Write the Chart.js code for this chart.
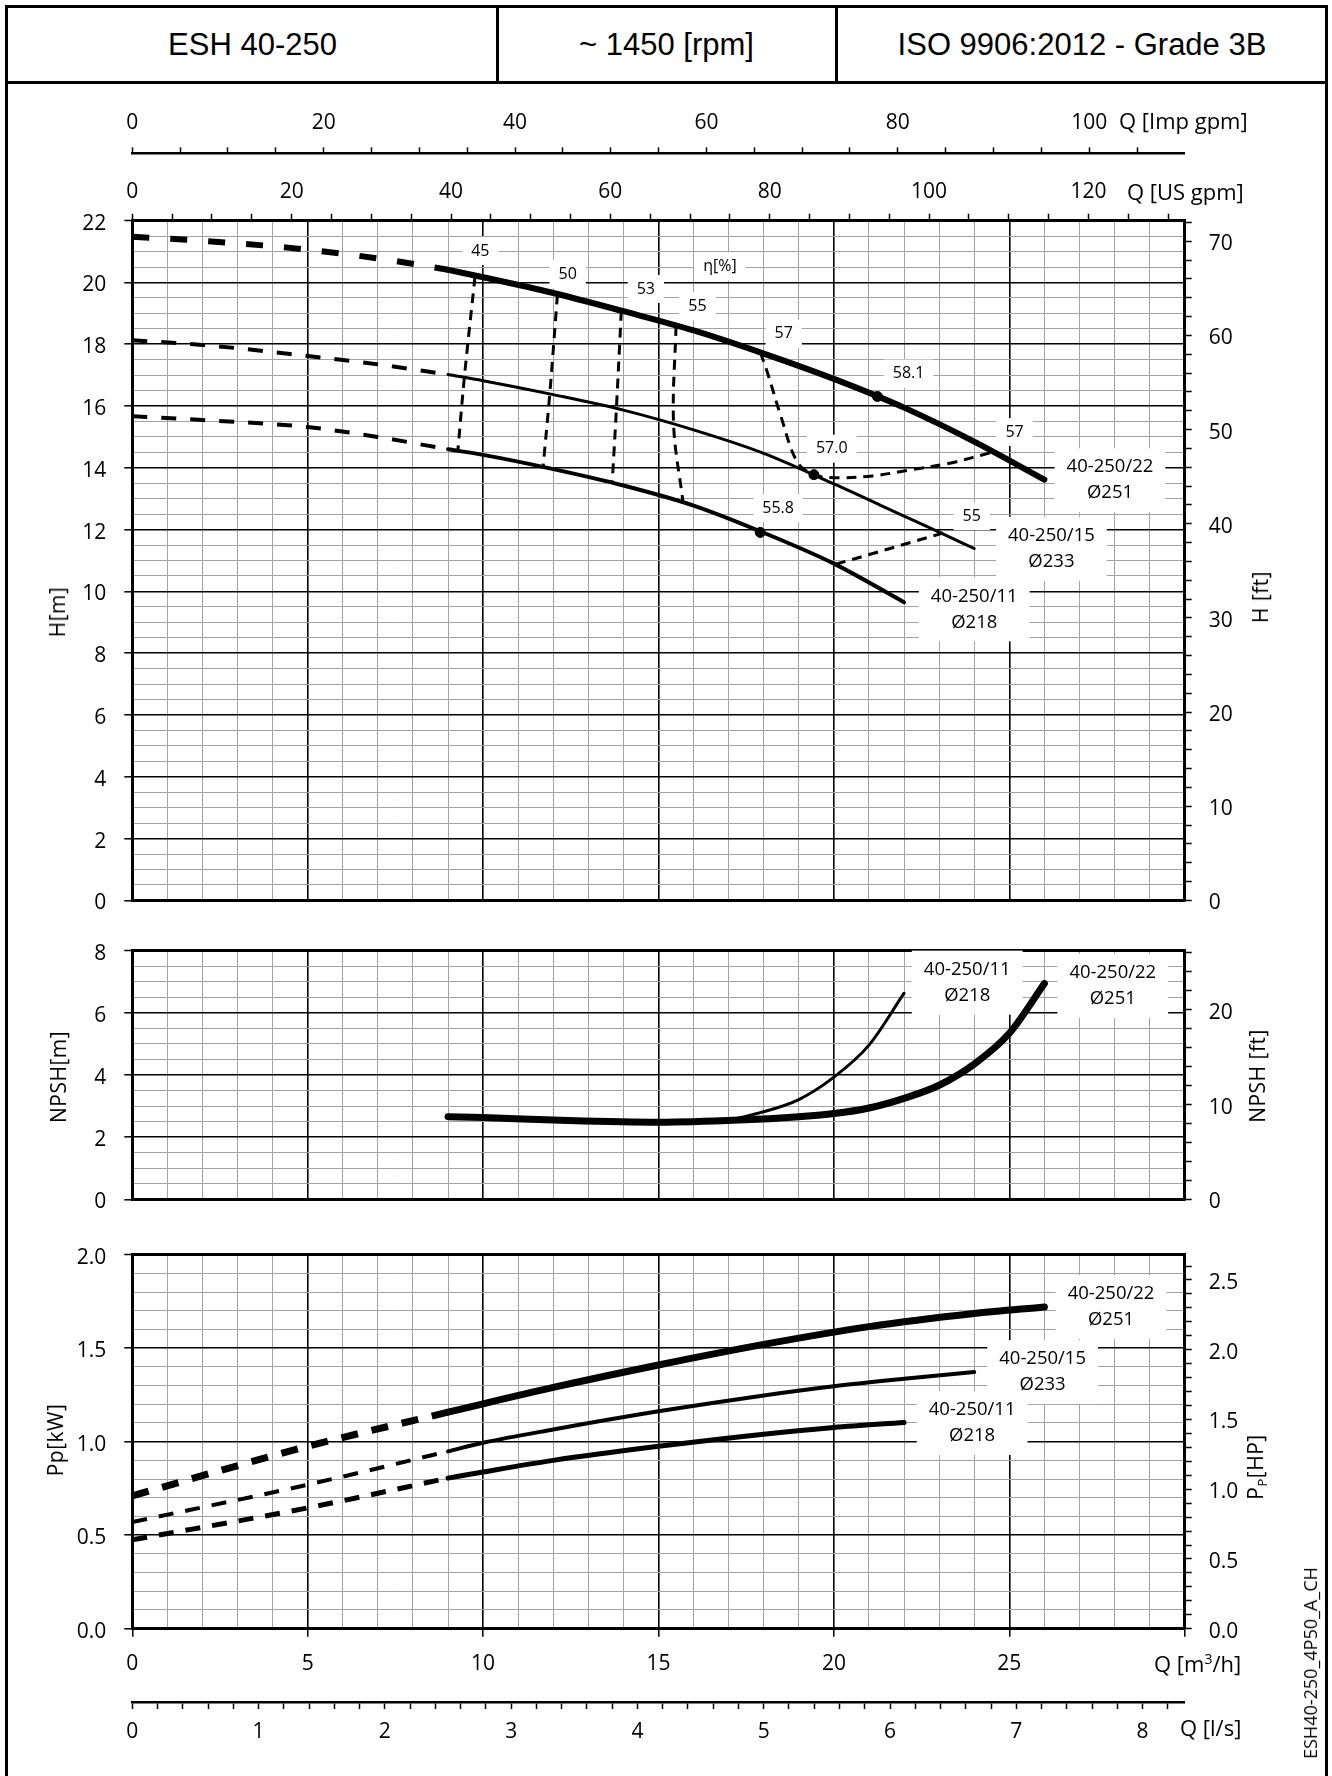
<!DOCTYPE html>
<html>
<head>
<meta charset="utf-8">
<title>ESH 40-250</title>
<script src="https://cdn.jsdelivr.net/npm/chart.js@4.4.1/dist/chart.umd.min.js"></script>
<style>
  html, body { margin: 0; padding: 0; background: #fff; }
  #page { position: relative; width: 1332px; height: 1776px; overflow: hidden; font-family: 'Open Sans', sans-serif; color: #000; }
  #frame { position: absolute; left: 5px; top: 5px; width: 1317px; height: 1800px; border: 3px solid #000; }
  .bar { position: absolute; background: #000; }
  .cell { position: absolute; top: 8px; height: 73px; line-height: 73px; text-align: center; font-family: 'Liberation Sans', Arial, sans-serif; font-size: 31px; }
  canvas { position: absolute; left: 0; }
  .unit { position: absolute; font-size: 22px; line-height: 30px; white-space: nowrap; }
  .rot { position: absolute; transform: translate(-50%, -50%) rotate(-90deg); white-space: nowrap; font-size: 21px; line-height: 26px; letter-spacing: 0.5px; }
  sup { font-size: 14px; vertical-align: 8px; line-height: 0; }
  sub { font-size: 13px; vertical-align: -4px; line-height: 0; }
</style>
</head>
<body>
<div id="page">
  <div id="frame"></div>
  <div class="bar" style="left:5px; top:81px; width:1323px; height:3px;"></div>
  <div class="bar" style="left:496px; top:5px; width:2.5px; height:78px;"></div>
  <div class="bar" style="left:835px; top:5px; width:2.5px; height:78px;"></div>
  <div class="cell" style="left:8px; width:489px;">ESH 40-250</div>
  <div class="cell" style="left:498px; width:337px;">~ 1450 [rpm]</div>
  <div class="cell" style="left:837px; width:490px;">ISO 9906:2012 - Grade 3B</div>

  <canvas id="cH" width="1332" height="841" style="top:90px"></canvas>
  <canvas id="cN" width="1332" height="310" style="top:920px"></canvas>
  <canvas id="cP" width="1332" height="552" style="top:1224px"></canvas>

  <div class="unit" style="left:1119px; top:105px;">Q [Imp gpm]</div>
  <div class="unit" style="left:1127px; top:176px;">Q [US gpm]</div>
  <div class="unit" style="left:1154px; top:1648px;">Q [m<sup>3</sup>/h]</div>
  <div class="unit" style="left:1180px; top:1712px;">Q [l/s]</div>

  <div class="rot" style="left:57px; top:612px;">H[m]</div>
  <div class="rot" style="left:58px; top:1077px;">NPSH[m]</div>
  <div class="rot" style="left:55px; top:1440px;">Pp[kW]</div>
  <div class="rot" style="left:1260px; top:597px;">H [ft]</div>
  <div class="rot" style="left:1257px; top:1076px;">NPSH [ft]</div>
  <div class="rot" style="left:1255px; top:1467px;">P<sub>P</sub>[HP]</div>
  <div class="rot" style="left:1310px; top:1663px; font-size:18px; letter-spacing:0;">ESH40-250_4P50_A_CH</div>
</div>

<script>
// ---- H [m] vs Q [m3/h] ----
const hQ22dash = [0, 2, 4.5, 7, 9];
const hH22dash = [21.48, 21.35, 21.12, 20.78, 20.41];
const hQ22 = [9, 10, 12, 14, 16, 18, 20, 22, 24, 26];
const hH22 = [20.41, 20.17, 19.66, 19.07, 18.45, 17.70, 16.88, 15.95, 14.85, 13.62];
const hQ15dash = [0, 2, 5, 7, 9];
const hH15dash = [18.13, 17.98, 17.62, 17.35, 17.02];
const hQ15 = [9, 10, 12, 14, 16, 18, 20, 22, 23, 24];
const hH15 = [17.02, 16.82, 16.37, 15.87, 15.23, 14.47, 13.48, 12.44, 11.92, 11.39];
const hQ11dash = [0, 2, 5, 7, 9];
const hH11dash = [15.67, 15.55, 15.32, 15.0, 14.6];
const hQ11 = [9, 10, 12, 14, 16, 18, 20, 22];
const hH11 = [14.6, 14.42, 13.96, 13.43, 12.78, 11.9, 10.9, 9.65];

// efficiency iso-lines
const eta45Q = [9.77, 9.47, 9.28];
const eta45H = [20.2, 16.98, 14.55];
const eta50Q = [12.12, 11.9, 11.71];
const eta50H = [19.62, 16.39, 14.03];
const eta53Q = [13.94, 13.8, 13.68];
const eta53H = [19.09, 15.92, 13.5];
const eta55Q = [15.5, 15.43, 15.7];
const eta55H = [18.6, 15.41, 12.88];
const eta57Q = [17.9, 18.09, 18.47, 18.95, 19.43, 20.1, 21.1, 22.1, 23.3, 24.5];
const eta57H = [17.74, 17.14, 15.74, 14.2, 13.78, 13.68, 13.74, 13.92, 14.15, 14.5];
const eta55bQ = [20.05, 23.2];
const eta55bH = [10.88, 11.92];

// best efficiency points
const bepQ = [21.24, 19.43, 17.9];
const bepH = [16.31, 13.78, 11.91];

// labels
const effText = ['45', '50', '53', '55', 'η[%]', '57', '58.1', '57', '57.0', '55.8', '55'];
const effQ = [9.92, 12.41, 14.64, 16.11, 16.75, 18.57, 22.13, 25.15, 19.94, 18.41, 23.93];
const effH = [21.02, 20.27, 19.79, 19.23, 20.52, 18.34, 17.05, 15.16, 14.62, 12.69, 12.44];
const curveText = ['40-250/22\nØ251', '40-250/15\nØ233', '40-250/11\nØ218'];
const hLabelQ = [27.87, 26.2, 24.0];
const hLabelH = [13.6, 11.38, 9.42];

// ---- NPSH [m] ----
const npQ22 = [9, 10, 12, 15, 17.3, 19, 20, 21, 22, 23, 24, 25, 26];
const npV22 = [2.66, 2.63, 2.55, 2.48, 2.55, 2.66, 2.76, 2.94, 3.25, 3.67, 4.35, 5.34, 6.94];
const npQ11 = [9, 12, 15, 17, 17.9, 19, 20, 21, 22];
const npV11 = [2.66, 2.55, 2.48, 2.56, 2.79, 3.21, 3.93, 4.96, 6.63];
const npText = ['40-250/11\nØ218', '40-250/22\nØ251'];
const npLabelQ = [23.8, 27.95];
const npLabelV = [6.97, 6.86];

// ---- Pp [kW] ----
const pQ22dash = [0, 2.5, 5, 9];
const pP22dash = [0.71, 0.845, 0.975, 1.158];
const pQ22 = [9, 12, 15, 18, 21, 24, 26];
const pP22 = [1.158, 1.29, 1.41, 1.52, 1.615, 1.685, 1.72];
const pQ15dash = [0, 5, 9];
const pP15dash = [0.57, 0.77, 0.948];
const pQ15 = [9, 10, 12, 15, 18, 20, 22, 24];
const pP15 = [0.948, 0.994, 1.065, 1.162, 1.247, 1.296, 1.336, 1.372];
const pQ11dash = [0, 5, 9];
const pP11dash = [0.475, 0.646, 0.805];
const pQ11 = [9, 10, 12, 15, 18, 20, 22];
const pP11 = [0.805, 0.838, 0.9, 0.975, 1.04, 1.076, 1.103];
const pLabelQ = [27.9, 25.95, 23.94];
const pLabelP = [1.72, 1.372, 1.10];

// unit conversions for the secondary axes
const IMP_GPM = 0.2727654;   // m3/h
const US_GPM = 0.2271247;    // m3/h
const FT = 0.3048;           // m
const HP = 0.7457;           // kW

Chart.defaults.font.family = "'Open Sans', sans-serif";
Chart.defaults.color = '#000';

const GRAY = '#a3a3a3';
const NONE = 'rgba(0,0,0,0)';
const tickFont = { size: 21 };
const isMul = (v, m) => Math.abs(v / m - Math.round(v / m)) < 1e-6;
const pts = (xs, ys) => xs.map((x, i) => ({ x, y: ys[i] }));
const tv = c => (c.tick ? c.tick.value : 0);

// pump curves are functions of Q -> monotone spline; iso-lines use plain bezier
function curve(q, v, width, dash) {
  return {
    data: pts(q, v), xAxisID: 'x', yAxisID: 'y', showLine: true,
    borderColor: '#000', borderWidth: width, borderDash: dash || [],
    borderCapStyle: dash ? 'butt' : 'round', borderJoinStyle: 'round',
    pointRadius: 0, cubicInterpolationMode: 'monotone', fill: false
  };
}
function isoLine(q, v) {
  return Object.assign(curve(q, v, 3, [10, 7]), { cubicInterpolationMode: 'default', tension: 0.35 });
}

function flowAxis(showLabels) {
  return {
    type: 'linear', position: 'bottom', min: 0, max: 30, weight: 0,
    ticks: {
      stepSize: 1, display: showLabels, autoSkip: false, maxRotation: 0, minRotation: 0,
      font: tickFont, padding: 14.7, callback: v => (isMul(v, 5) && v < 30 ? String(v) : '')
    },
    grid: {
      drawTicks: showLabels, tickLength: 8, tickWidth: 1.5,
      tickColor: c => (isMul(tv(c), 5) ? '#000' : NONE),
      color: c => (isMul(tv(c), 5) ? '#000' : GRAY),
      lineWidth: c => (isMul(tv(c), 5) ? 1.6 : 1)
    },
    border: { display: true, color: '#000', width: 3 },
    afterFit: s => { s.height = showLabels ? 73.3 : 0; }
  };
}

function leftAxis(max, step, major, fmt) {
  return {
    type: 'linear', position: 'left', min: 0, max,
    ticks: {
      stepSize: step, autoSkip: false, includeBounds: false, font: tickFont, padding: 18, labelOffset: 3,
      callback: v => (isMul(v, major) ? fmt(v) : '')
    },
    grid: {
      tickLength: 8, tickWidth: 1.5,
      tickColor: c => (isMul(tv(c), major) ? '#000' : NONE),
      color: c => (isMul(tv(c), major) ? '#000' : GRAY),
      lineWidth: c => (Math.abs(tv(c) - max) < 1e-6 ? 3 : isMul(tv(c), major) ? 1.6 : 1)
    },
    border: { display: true, color: '#000', width: 3 },
    afterFit: s => { s.width = 132.3; }
  };
}

function rightAxis(max, step, major, fmt) {
  return {
    type: 'linear', position: 'right', min: 0, max,
    ticks: {
      stepSize: step, autoSkip: false, includeBounds: false, font: tickFont, padding: 17, labelOffset: 3,
      callback: v => (isMul(v, major) ? fmt(v) : '')
    },
    grid: { drawOnChartArea: false, tickLength: 7, tickWidth: 1.5, tickColor: '#000' },
    border: { display: true, color: '#000', width: 3 },
    afterFit: s => { s.width = 147.3; }
  };
}

// gpm scales: one tick every 5 gpm, a label every 20
function topAxis(max, weight, tickLen, pad, boxH, borderW) {
  return {
    type: 'linear', position: 'top', min: 0, max, weight,
    ticks: {
      autoSkip: false, maxRotation: 0, minRotation: 0,
      font: tickFont, padding: pad, callback: v => (isMul(v, 20) ? String(v) : '')
    },
    afterBuildTicks: s => {
      const t = [];
      for (let v = 0; v <= s.max + 1e-9; v += 5) t.push({ value: v });
      s.ticks = t;
    },
    grid: { drawOnChartArea: false, tickLength: tickLen, tickWidth: 1.5, tickColor: '#000' },
    border: { display: true, color: '#000', width: borderW },
    afterFit: s => { s.height = boxH; }
  };
}

// white boxed text placed in data units
function drawBoxLabels(chart, texts, xs, ys, size, lh, padX, padY) {
  const ctx = chart.ctx, sx = chart.scales.x, sy = chart.scales.y;
  texts.forEach((t, i) => {
    const lines = t.split('\n');
    ctx.save();
    ctx.font = size + "px 'Open Sans', sans-serif";
    const w = Math.max(...lines.map(s => ctx.measureText(s).width)) + 2 * padX;
    const h = lines.length * lh + 2 * padY;
    const cx = sx.getPixelForValue(xs[i]);
    const cy = sy.getPixelForValue(ys[i]);
    ctx.fillStyle = '#fff';
    ctx.fillRect(cx - w / 2, cy - h / 2, w, h);
    ctx.fillStyle = '#000';
    ctx.textAlign = 'center';
    ctx.textBaseline = 'middle';
    lines.forEach((s, k) => ctx.fillText(s, cx, cy + (k - (lines.length - 1) / 2) * lh));
    ctx.restore();
  });
}

const baseOpts = (padding, scales) => ({
  responsive: false, animation: false, events: [],
  layout: { padding },
  plugins: { legend: { display: false }, tooltip: { enabled: false } },
  scales
});

// ---- head chart ----
new Chart(document.getElementById('cH'), {
  type: 'scatter',
  data: {
    datasets: [
      curve(hQ22dash, hH22dash, 6, [17, 21]),
      curve(hQ22, hH22, 6),
      curve(hQ15dash, hH15dash, 4, [15, 14]),
      curve(hQ15, hH15, 3),
      curve(hQ11dash, hH11dash, 4, [15, 14]),
      curve(hQ11, hH11, 4),
      isoLine(eta45Q, eta45H),
      isoLine(eta50Q, eta50H),
      isoLine(eta53Q, eta53H),
      isoLine(eta55Q, eta55H),
      isoLine(eta57Q, eta57H),
      isoLine(eta55bQ, eta55bH),
      {
        data: pts(bepQ, bepH), xAxisID: 'x', yAxisID: 'y', showLine: false,
        pointRadius: 5, pointBackgroundColor: '#000', pointBorderColor: '#000'
      }
    ]
  },
  options: baseOpts({ top: 0, bottom: 25, left: 0, right: 0 }, {
    x: flowAxis(false),
    y: leftAxis(22, 0.5, 2, v => String(v)),
    xUS: topAxis(30 / US_GPM, 0, 7, 9, 67.4, 3),
    xImp: topAxis(30 / IMP_GPM, 1, 6, 11.5, 63.3, 2.5),
    yft: rightAxis(22 / FT, 2, 10, v => String(v))
  }),
  plugins: [{
    id: 'hLabels',
    beforeDatasetsDraw(chart) {
      drawBoxLabels(chart, effText, effQ, effH, 16, 20, 9, 4);
      drawBoxLabels(chart, curveText, hLabelQ, hLabelH, 18.5, 26, 12, 6);
    }
  }]
});

// ---- NPSH chart ----
new Chart(document.getElementById('cN'), {
  type: 'scatter',
  data: {
    datasets: [
      curve(npQ22, npV22, 7),
      curve(npQ11, npV11, 3)
    ]
  },
  options: baseOpts({ top: 25, bottom: 23.7, left: 0, right: 0 }, {
    x: flowAxis(false),
    y: leftAxis(8, 0.5, 2, v => String(v)),
    yft: rightAxis(8 / FT, 2, 10, v => String(v))
  }),
  plugins: [{
    id: 'npLabels',
    beforeDatasetsDraw(chart) {
      drawBoxLabels(chart, npText, npLabelQ, npLabelV, 18.5, 26, 12, 6);
    }
  }]
});

// ---- power chart ----
new Chart(document.getElementById('cP'), {
  type: 'scatter',
  data: {
    datasets: [
      curve(pQ22dash, pP22dash, 7, [17, 14]),
      curve(pQ22, pP22, 7),
      curve(pQ15dash, pP15dash, 4, [15, 12]),
      curve(pQ15, pP15, 4),
      curve(pQ11dash, pP11dash, 5, [15, 12]),
      curve(pQ11, pP11, 5)
    ]
  },
  options: baseOpts({ top: 25, bottom: 27, left: 0, right: 0 }, {
    x: flowAxis(true),
    xls: {
      type: 'linear', position: 'bottom', min: 0, max: 30 / 3.6, weight: 1,
      ticks: {
        stepSize: 0.2, autoSkip: false, includeBounds: false, maxRotation: 0, minRotation: 0,
        font: tickFont, padding: 10, callback: v => (isMul(v, 1) ? String(v) : '')
      },
      grid: { drawOnChartArea: false, tickLength: 7, tickWidth: 1.5, tickColor: '#000' },
      border: { display: true, color: '#000', width: 2.5 },
      afterFit: s => { s.height = 47; }
    },
    y: leftAxis(2, 0.1, 0.5, v => v.toFixed(1)),
    yhp: rightAxis(2 / HP, 0.1, 0.5, v => v.toFixed(1))
  }),
  plugins: [{
    id: 'pLabels',
    beforeDatasetsDraw(chart) {
      drawBoxLabels(chart, curveText, pLabelQ, pLabelP, 18.5, 26, 12, 6);
    }
  }]
});
</script>
</body>
</html>
